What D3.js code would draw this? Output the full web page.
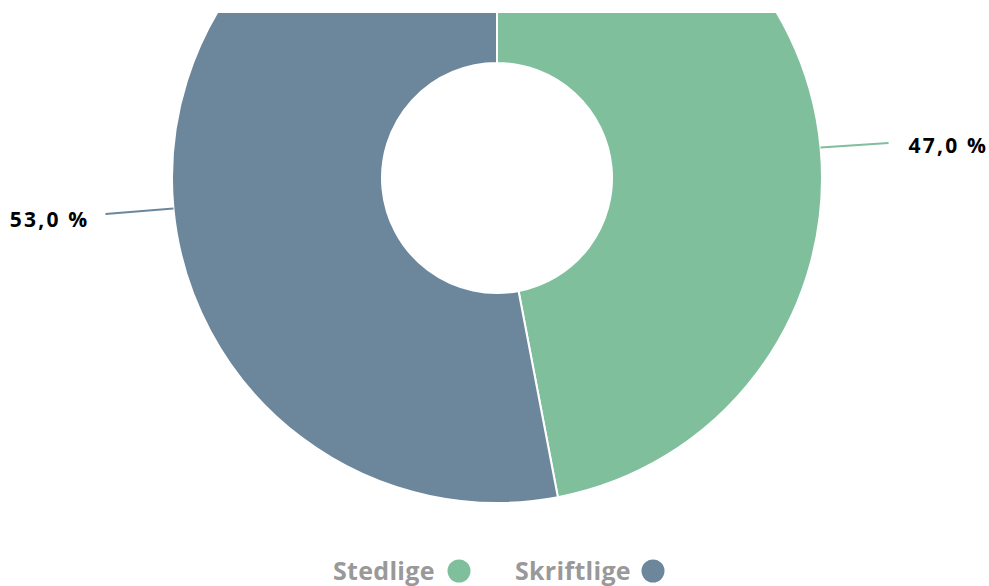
<!DOCTYPE html>
<html>
<head>
<meta charset="utf-8">
<script src="https://cdn.jsdelivr.net/npm/d3@7"></script>
<style>
  html, body { margin: 0; padding: 0; background: #fff; }
  svg { display: block; font-family: "Open Sans", "DejaVu Sans", sans-serif; }
</style>
</head>
<body>
<div id="chart"></div>
<script>
// data
const categories = ['Stedlige', 'Skriftlige'];
const values = [47.0, 53.0];
const colors = ['#7fbf9c', '#6c879c'];

const width = 989;
const height = 586;
const cx = 497, cy = 178;
const outerR = 325, innerR = 115;

const svg = d3.select('#chart')
  .append('svg')
    .attr('width', width)
    .attr('height', height);

// plot area is clipped at the top
svg.append('clipPath')
  .attr('id', 'plotClip')
  .append('rect')
    .attr('x', 0).attr('y', 13)
    .attr('width', width).attr('height', height - 13);

const data = categories.map((c, i) => ({ name: c, value: values[i], color: colors[i] }));

const pie = d3.pie()
  .value(d => d.value)
  .sort(null);

const arc = d3.arc()
  .innerRadius(innerR)
  .outerRadius(outerR);

const arcs = pie(data);

const body = svg.append('g')
  .attr('clip-path', 'url(#plotClip)');

const g = body.append('g')
  .attr('transform', `translate(${cx},${cy})`);

g.selectAll('path.slice')
  .data(arcs)
  .enter()
    .append('path')
      .attr('class', 'slice')
      .attr('d', arc)
      .style('fill', d => d.data.color)
      .style('stroke', '#fff')
      .style('stroke-width', 2)
      .style('stroke-linejoin', 'round');

// leader lines + labels
const labelArm = 68;
const labelG = svg.append('g')
  .attr('transform', `translate(${cx},${cy})`);

arcs.forEach(d => {
  const mid = (d.startAngle + d.endAngle) / 2;
  const x0 = Math.sin(mid) * outerR;
  const y0 = -Math.cos(mid) * outerR;
  const right = x0 > 0;
  const x1 = x0 + (right ? labelArm : -labelArm);
  const y1 = y0 + (right ? -4.5 : 5.5);

  labelG.append('path')
    .attr('d', `M${x0},${y0}L${x1},${y1}`)
    .style('fill', 'none')
    .style('stroke', d.data.color)
    .style('stroke-width', 2);

  labelG.append('text')
    .attr('x', x1 + (right ? 20 : -16))
    .attr('y', y1 + (right ? 3 : 5.5))
    .attr('dy', '0.35em')
    .attr('text-anchor', right ? 'start' : 'end')
    .style('font-size', '21px')
    .style('font-weight', 'bold')
    .style('letter-spacing', '2.2px')
    .style('fill', '#000')
    .text(d3.format('.1f')(d.data.value).replace('.', ',') + ' %');
});

// legend
const legend = svg.append('g')
  .attr('transform', 'translate(0,580)');

const legendItems = [
  { x: 333, cxDot: 459 },
  { x: 515, cxDot: 653 }
];

data.forEach((d, i) => {
  legend.append('text')
    .attr('x', legendItems[i].x)
    .attr('y', 0)
    .style('font-size', '25px')
    .style('font-weight', 'bold')
    .style('letter-spacing', '0.3px')
    .style('fill', '#999')
    .text(d.name);
  legend.append('circle')
    .attr('cx', legendItems[i].cxDot)
    .attr('cy', -9)
    .attr('r', 11.5)
    .style('fill', d.color);
});
</script>
</body>
</html>
